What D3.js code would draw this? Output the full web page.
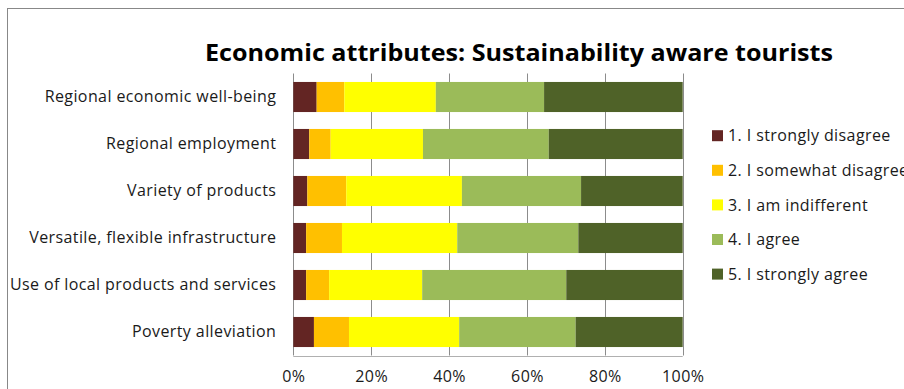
<!DOCTYPE html>
<html>
<head>
<meta charset="utf-8">
<script src="https://cdn.jsdelivr.net/npm/d3@7"></script>
<style>
  html, body { margin: 0; padding: 0; background: #fff; }
  svg { display: block; }
  text { font-family: "Open Sans", Lato, sans-serif; }
</style>
</head>
<body>
<svg id="chart" width="904" height="389"></svg>
<script>
// Survey items (top to bottom)
const categories = [
  "Regional economic well-being",
  "Regional employment",
  "Variety of products",
  "Versatile, flexible infrastructure",
  "Use of local products and services",
  "Poverty alleviation"
];

// Response levels and their colours
const seriesNames = [
  "1. I strongly disagree",
  "2. I somewhat disagree",
  "3. I am indifferent",
  "4. I agree",
  "5. I strongly agree"
];
const seriesColors = ["#632523", "#FFC000", "#FFFF00", "#9BBB59", "#4F6228"];

// Share of respondents (%) per level, one array per level, in category order
const strongDisagree = [6.0, 4.1, 3.6, 3.3, 3.3, 5.3];
const somewhatDisagree = [7.1, 5.5, 10.0, 9.2, 5.9, 9.0];
const indifferent = [23.5, 23.7, 29.7, 29.6, 23.9, 28.3];
const agree = [27.8, 32.3, 30.6, 31.1, 37.0, 29.9];
const strongAgree = [35.6, 34.4, 26.1, 26.8, 29.9, 27.5];

const tickValues = [0, 0.2, 0.4, 0.6, 0.8, 1.0];

const seriesValues = [strongDisagree, somewhatDisagree, indifferent, agree, strongAgree];

// Build rows normalised to 100%
const rows = categories.map((c, i) => {
  const row = { category: c };
  const total = d3.sum(seriesValues, s => s[i]);
  seriesNames.forEach((n, k) => { row[n] = seriesValues[k][i] / total; });
  return row;
});

const stacked = d3.stack().keys(seriesNames)(rows);

const svg = d3.select("#chart");
const labelFont = "'Open Sans', Lato, sans-serif";
const labelSize = 16;
const labelSpacing = "0.4px";

// Outer chart frame
svg.append("rect")
  .attr("x", 7.5).attr("y", 8.5)
  .attr("width", 920).attr("height", 400)
  .attr("fill", "none")
  .attr("stroke", "#888")
  .attr("stroke-width", 1);

const plot = { left: 293.3, right: 682.7, top: 73.5, bottom: 355.5 };

const x = d3.scaleLinear().domain([0, 1]).range([plot.left, plot.right]);
const y = d3.scaleBand().domain(categories).range([plot.top, plot.bottom])
  .paddingInner(0.36).paddingOuter(0.18);

// Title
svg.append("text")
  .attr("x", 519).attr("y", 61)
  .attr("text-anchor", "middle")
  .attr("font-size", 23)
  .attr("font-weight", "bold")
  .attr("fill", "#000")
  .attr("textLength", 628)
  .attr("lengthAdjust", "spacingAndGlyphs")
  .text("Economic attributes: Sustainability aware tourists");

// Vertical gridlines
svg.append("g")
  .selectAll("line")
  .data(tickValues)
  .join("line")
  .attr("x1", d => Math.round(x(d)) + 0.5)
  .attr("x2", d => Math.round(x(d)) + 0.5)
  .attr("y1", plot.top)
  .attr("y2", plot.bottom)
  .attr("stroke", "#8c8c8c")
  .attr("stroke-width", 1);

// Baseline of the value axis
svg.append("line")
  .attr("x1", plot.left).attr("x2", plot.right)
  .attr("y1", Math.round(plot.bottom) + 0.5).attr("y2", Math.round(plot.bottom) + 0.5)
  .attr("stroke", "#b0b0b0");

// Stacked bars
svg.append("g")
  .selectAll("g")
  .data(stacked)
  .join("g")
  .attr("fill", (d, i) => seriesColors[i])
  .selectAll("rect")
  .data(d => d)
  .join("rect")
  .attr("x", d => x(d[0]))
  .attr("width", d => x(d[1]) - x(d[0]))
  .attr("y", d => y(d.data.category))
  .attr("height", y.bandwidth());

// Value axis labels
const xAxis = d3.axisBottom(x)
  .tickValues(tickValues)
  .tickFormat(d3.format(".0%"))
  .tickSize(0)
  .tickPadding(15);
const gx = svg.append("g")
  .attr("transform", `translate(0,${plot.bottom})`)
  .call(xAxis);
gx.select(".domain").remove();
gx.selectAll("text")
  .attr("font-size", labelSize)
  .attr("fill", "#1a1a1a")
  .style("letter-spacing", labelSpacing)
  .style("font-family", labelFont);

// Category axis labels
const yAxis = d3.axisLeft(y).tickSize(0).tickPadding(17);
const gy = svg.append("g")
  .attr("transform", `translate(${plot.left},0)`)
  .call(yAxis);
gy.select(".domain").remove();
gy.selectAll("text")
  .attr("font-size", labelSize)
  .attr("fill", "#1a1a1a")
  .style("letter-spacing", labelSpacing)
  .style("font-family", labelFont);

// Legend
const legend = svg.append("g")
  .selectAll("g")
  .data(seriesNames)
  .join("g")
  .attr("transform", (d, i) => `translate(712,${135.7 + i * 34.6})`);
legend.append("rect")
  .attr("x", 0).attr("y", -5.5)
  .attr("width", 11).attr("height", 11)
  .attr("fill", (d, i) => seriesColors[i]);
legend.append("text")
  .attr("x", 16).attr("y", 0)
  .attr("dy", "0.35em")
  .attr("font-size", labelSize)
  .attr("fill", "#1a1a1a")
  .style("letter-spacing", labelSpacing)
  .text(d => d);
</script>
</body>
</html>
